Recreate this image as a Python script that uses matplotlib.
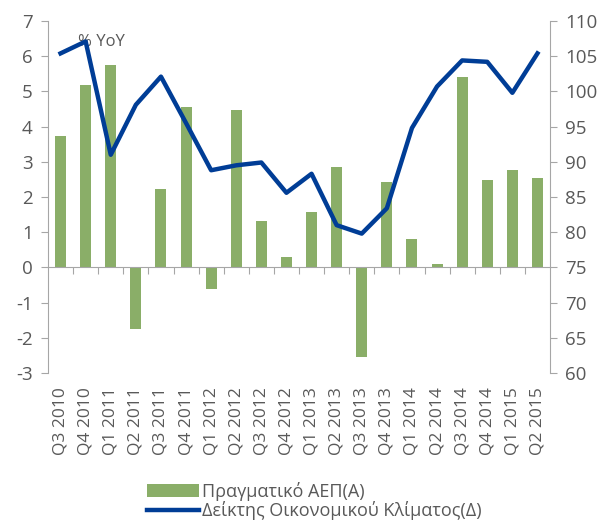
import numpy as np
import matplotlib.pyplot as plt
from matplotlib.ticker import FixedLocator

plt.rcParams['font.family'] = ['Open Sans', 'DejaVu Sans']
plt.rcParams['axes.unicode_minus'] = False

# Quarters
quarters = ['Q3 2010', 'Q4 2010', 'Q1 2011', 'Q2 2011', 'Q3 2011', 'Q4 2011',
            'Q1 2012', 'Q2 2012', 'Q3 2012', 'Q4 2012', 'Q1 2013', 'Q2 2013',
            'Q3 2013', 'Q4 2013', 'Q1 2014', 'Q2 2014', 'Q3 2014', 'Q4 2014',
            'Q1 2015', 'Q2 2015']

# Real GDP, % YoY (left axis)
gdp = [3.72, 5.18, 5.75, -1.75, 2.23, 4.55, -0.62, 4.48, 1.31, 0.29, 1.58,
       2.85, -2.55, 2.42, 0.80, 0.11, 5.40, 2.49, 2.78, 2.53]

# Economic sentiment indicator (right axis)
esi = [105.4, 107.1, 91.0, 98.1, 102.1, 95.5, 88.8, 89.5, 89.9, 85.6, 88.3,
       81.0, 79.8, 83.4, 94.8, 100.7, 104.4, 104.2, 99.8, 105.4]

gray = '#595959'
axis_gray = '#a6a6a6'
x = np.arange(len(quarters))

fig = plt.figure(figsize=(6.06, 5.23), dpi=100)
ax = fig.add_axes([48 / 606, 1 - 373 / 523, 502 / 606, 352 / 523])

bars = ax.bar(x, gdp, width=0.44, color='#8aae68', zorder=2,
              label='Πραγματικό ΑΕΠ(Α)')
ax.set_ylim(-3, 7)
ax.set_xlim(-0.5, len(quarters) - 0.5)
ax.set_yticks(range(-3, 8))

ax2 = ax.twinx()
line, = ax2.plot(x, esi, color='#003d96', linewidth=3.2, zorder=3,
                 label='Δείκτης Οικονομικού Κλίματος(Δ)')
ax2.set_ylim(60, 110)
ax2.set_yticks(range(60, 111, 5))

# x axis at zero with ticks between categories
ax.spines['bottom'].set_position(('data', 0))
ax.xaxis.set_major_locator(FixedLocator(list(x[:-1] + 0.5)))
ax.tick_params(axis='x', which='major', length=5, color=axis_gray,
               labelbottom=False)

sec = ax.secondary_xaxis('bottom')
sec.set_xticks(x, quarters, rotation=90)
sec.tick_params(length=0, pad=10, labelsize=12.5, labelcolor=gray)
sec.spines['bottom'].set_visible(False)

for a in (ax, ax2):
    a.spines['top'].set_visible(False)
    for s in a.spines.values():
        s.set_color(axis_gray)
ax2.spines['bottom'].set_visible(False)
ax2.spines['left'].set_visible(False)
ax.spines['right'].set_visible(False)

ax.tick_params(axis='y', length=5, color=axis_gray, labelsize=13.5,
               labelcolor=gray, pad=6)
ax2.tick_params(axis='y', length=5, color=axis_gray, labelsize=13.5,
                labelcolor=gray, pad=6)

ax.text(0.06, 0.94, '% YoY', transform=ax.transAxes, fontsize=12,
        color=gray, va='center', ha='left', zorder=5)

fig.legend(handles=[bars, line], loc='upper left',
           bbox_to_anchor=(138 / 606, 1 - 473 / 523), frameon=False,
           fontsize=13, labelcolor=gray, handlelength=2.9,
           handletextpad=0.15, labelspacing=0.0, borderpad=0)

fig.savefig('out.png', dpi=100)
